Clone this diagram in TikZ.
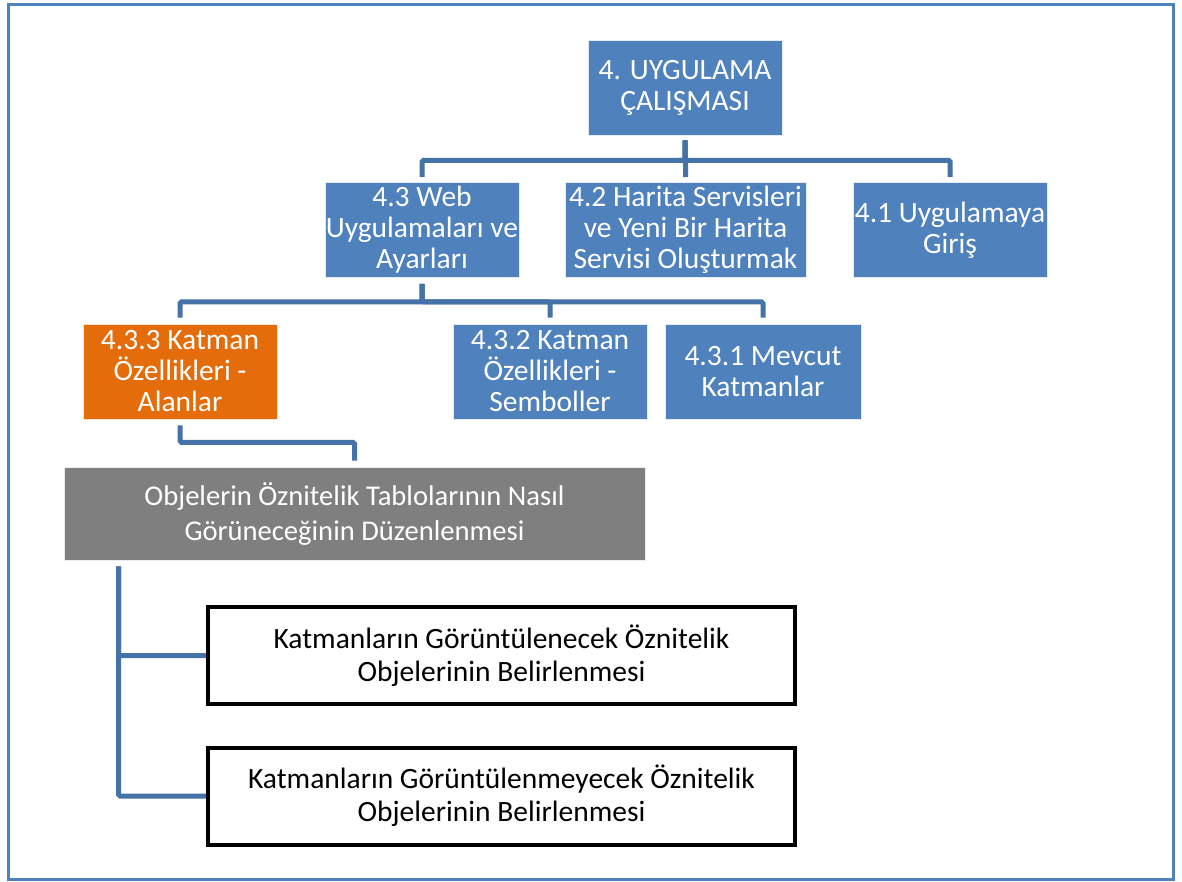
\documentclass[tikz,border=0pt]{standalone}
\usepackage{fontspec}
\setmainfont{Carlito}
\usetikzlibrary{calc}
\definecolor{boxblue}{HTML}{4F81BD}
\definecolor{linkblue}{HTML}{4572A7}
\definecolor{boxorange}{HTML}{E46C0A}
\definecolor{boxgray}{HTML}{7F7F7F}
\begin{document}
\begin{tikzpicture}[x=1pt,y=-1pt,
  topic/.style={draw=white!85!boxblue, line width=0.6pt, fill=boxblue, text=white,
    align=center, inner sep=0pt, minimum width=194pt, minimum height=95pt,
    font=\fontsize{29.5}{31}\selectfont},
  hot/.style={topic, fill=boxorange, draw=white!80!boxorange},
  greybox/.style={topic, fill=boxgray, draw=white!85!boxgray, minimum width=581pt,
    minimum height=93pt, font=\fontsize{28.6}{35}\selectfont},
  leaf/.style={draw=black, line width=4pt, fill=white, text=black, align=center,
    inner sep=0pt, minimum width=587pt, minimum height=97pt,
    font=\fontsize{29.5}{33}\selectfont},
  conn/.style={draw=linkblue, line width=5pt, rounded corners=1.5pt},
]
\useasboundingbox (0,0) rectangle (1182,882);
\draw[boxblue, line width=3pt] (8.5,4.5) rectangle (1173.5,879.5);

% top level
\node[topic] (root) at (685,87.5) {4. UYGULAMA\\ÇALIŞMASI};

% second level
\node[topic] (n43) at (422,230) {4.3 Web\\Uygulamaları ve\\Ayarları};
\node[topic, minimum width=241pt] (n42) at (685.5,230) {4.2 Harita Servisleri\\ve Yeni Bir Harita\\Servisi Oluşturmak};
\node[topic] (n41) at (950,230) {4.1 Uygulamaya\\Giriş};

% third level
\node[hot] (n433) at (180,371.5) {4.3.3 Katman\\Özellikleri -\\Alanlar};
\node[topic] (n432) at (550,371.5) {4.3.2 Katman\\Özellikleri -\\Semboller};
\node[topic, minimum width=196pt] (n431) at (763,371.5) {4.3.1 Mevcut\\Katmanlar};

% detail boxes
\node[greybox] (grey) at (354.5,513.5) {Objelerin Öznitelik Tablolarının Nasıl\\Görüneceğinin Düzenlenmesi};
\node[leaf] (b1) at (501.5,655.5) {Katmanların Görüntülenecek Öznitelik\\Objelerinin Belirlenmesi};
\node[leaf] (b2) at (501.5,796) {Katmanların Görüntülenmeyecek Öznitelik\\Objelerinin Belirlenmesi};

% connectors
\foreach \c in {n43,n42,n41}
  \draw[conn, shorten <=5pt, shorten >=5pt] (root.south) -- ([yshift=-25pt]root.south) -| (\c.north);
\foreach \c in {n433,n432,n431}
  \draw[conn, shorten <=6pt, shorten >=6pt] (n43.south) -- ([yshift=-24pt]n43.south) -| (\c.north);
\draw[conn, shorten <=6pt, shorten >=6pt] (n433.south) -- ([yshift=-23pt]n433.south) -| (grey.north);
\coordinate (trunk) at ([xshift=55pt]grey.south west);
\draw[conn, shorten <=6pt] (trunk) |- (b1.west);
\draw[conn, shorten <=6pt] (trunk) |- (b2.west);
\end{tikzpicture}
\end{document}
